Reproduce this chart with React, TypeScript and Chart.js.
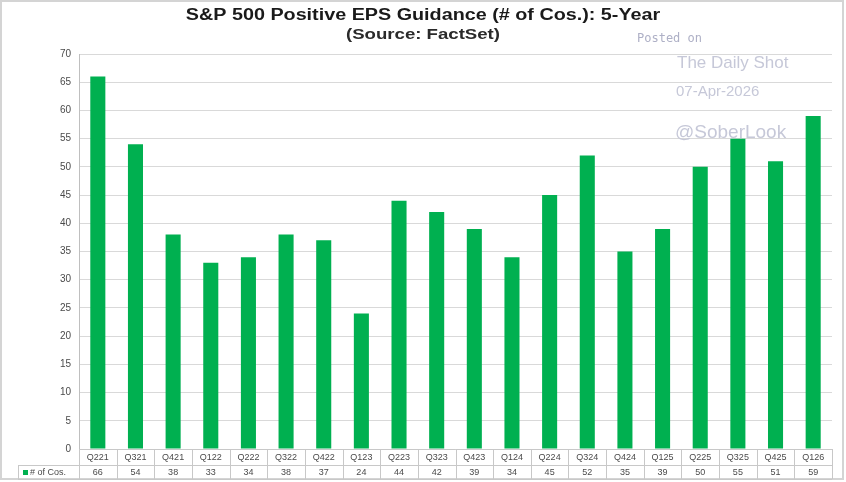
import React, { useEffect, useRef } from "react";
import Chart from "chart.js/auto";

const categories = ["Q221","Q321","Q421","Q122","Q222","Q322","Q422","Q123","Q223","Q323","Q423","Q124","Q224","Q324","Q424","Q125","Q225","Q325","Q425","Q126"];
const cosValues = [66,54,38,33,34,38,37,24,44,42,39,34,45,52,35,39,50,55,51,59];
const seriesName = "# of Cos.";
const titleText = "S&P 500 Positive EPS Guidance (# of Cos.): 5-Year";
const subtitleText = "(Source: FactSet)";

const GREEN = "#00b050";
const LINE = "#c8c8c8";
const TXT = "#4a4a4a";

export default function App() {
  const ref = useRef<HTMLCanvasElement | null>(null);
  useEffect(() => {
    if (!ref.current) return;
    const decor = {
      id: "decor",
      afterDraw(chart: any) {
        const ctx = chart.ctx as CanvasRenderingContext2D;
        const x = chart.scales.x;
        const area = chart.chartArea;
        ctx.save();
        // frame
        ctx.strokeStyle = "#d4d4d4";
        ctx.lineWidth = 2;
        ctx.strokeRect(1, 1, 842, 478);
        // title (horizontally stretched as in the reference)
        ctx.textAlign = "center";
        ctx.textBaseline = "middle";
        ctx.save();
        ctx.translate(423, 16);
        ctx.scale(1.235, 1);
        ctx.fillStyle = "#1a1a1a";
        ctx.font = "bold 16px Arial, 'Liberation Sans', sans-serif";
        ctx.fillText(titleText, 0, 0);
        ctx.restore();
        ctx.save();
        ctx.translate(423, 35);
        ctx.scale(1.24, 1);
        ctx.fillStyle = "#2a2a2a";
        ctx.font = "bold 15px Arial, 'Liberation Sans', sans-serif";
        ctx.fillText(subtitleText, 0, 0);
        ctx.restore();
        // watermark
        ctx.textAlign = "left";
        ctx.fillStyle = "#aeb0c6";
        ctx.font = "12px 'DejaVu Sans Mono', monospace";
        ctx.fillText("Posted on", 637, 39);
        ctx.fillStyle = "#c6c8d8";
        ctx.font = "17px Arial, 'Liberation Sans', sans-serif";
        ctx.fillText("The Daily Shot", 677, 63);
        ctx.font = "15px Arial, 'Liberation Sans', sans-serif";
        ctx.fillText("07-Apr-2026", 676, 92);
        ctx.font = "19px Arial, 'Liberation Sans', sans-serif";
        ctx.fillText("@SoberLook", 675, 133);
        // table
        const n = categories.length;
        const step = (x.getPixelForValue(1) - x.getPixelForValue(0));
        const y0 = area.bottom, y1 = y0 + 16, y2 = y1 + 14;
        const legL = 18;
        ctx.strokeStyle = LINE;
        ctx.lineWidth = 1;
        ctx.beginPath();
        ctx.moveTo(area.left, y0 + 0.5); ctx.lineTo(area.right, y0 + 0.5);
        ctx.moveTo(legL, y1 + 0.5); ctx.lineTo(area.right, y1 + 0.5);
        ctx.moveTo(legL, y2 + 0.5); ctx.lineTo(area.right, y2 + 0.5);
        ctx.moveTo(legL + 0.5, y1); ctx.lineTo(legL + 0.5, y2);
        for (let i = 0; i <= n; i++) {
          const bx = Math.round(x.getPixelForValue(i) - step / 2) + 0.5;
          ctx.moveTo(bx, y0); ctx.lineTo(bx, y2);
        }
        ctx.stroke();
        ctx.fillStyle = TXT;
        ctx.textAlign = "center";
        ctx.font = "9px Arial, 'Liberation Sans', sans-serif";
        for (let i = 0; i < n; i++) {
          const cx = x.getPixelForValue(i);
          ctx.fillText(categories[i], cx, (y0 + y1) / 2 + 1);
          ctx.fillText(String(cosValues[i]), cx, (y1 + y2) / 2 + 1);
        }
        ctx.fillStyle = GREEN;
        ctx.fillRect(legL + 5, (y1 + y2) / 2 - 2, 5, 5);
        ctx.fillStyle = TXT;
        ctx.textAlign = "left";
        ctx.fillText(seriesName, legL + 12, (y1 + y2) / 2 + 1);
        ctx.restore();
      },
    };
    const chart = new Chart(ref.current, {
      type: "bar",
      data: {
        labels: categories,
        datasets: [{ label: seriesName, data: cosValues, backgroundColor: GREEN, borderWidth: 0, barPercentage: 0.4, categoryPercentage: 1 }],
      },
      options: {
        animation: false,
        responsive: false,
        maintainAspectRatio: false,
        layout: { padding: { top: 54, right: 14, bottom: 33, left: 0 } },
        plugins: { legend: { display: false }, title: { display: false }, tooltip: { enabled: false } },
        scales: {
          x: { display: false },
          y: {
            min: 0, max: 70,
            ticks: { stepSize: 5, color: TXT, padding: 8, font: { size: 10, family: "Arial, 'Liberation Sans', sans-serif" } },
            grid: { color: "#d9d9d9", drawTicks: false },
            border: { color: "#bfbfbf" },
            afterFit: (s: any) => { s.width = 79; },
          },
        },
      },
      plugins: [decor],
    });
    return () => chart.destroy();
  }, []);
  return (
    <div style={{ position: "fixed", left: 0, top: 0, width: 846, height: 482, background: "#fff" }}>
      <canvas ref={ref} width={846} height={482} style={{ width: 846, height: 482 }} />
    </div>
  );
}
